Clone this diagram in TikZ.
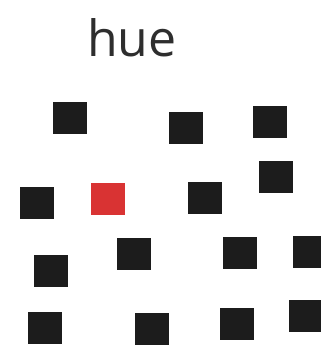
\documentclass[tikz,border=0pt]{standalone}
\usepackage{fontspec}
\setsansfont{Open Sans}
\definecolor{sqink}{HTML}{1C1C1C}
\definecolor{sqred}{HTML}{D93333}
\definecolor{hink}{HTML}{2E2E2E}
\tikzset{
  sq/.style={fill=#1, draw=none, minimum width=34pt, minimum height=32pt,
    inner sep=0pt},
  sq/.default=sqink,
  title/.style={text=hink, font=\sffamily\fontsize{50}{50}\selectfont,
    anchor=base, inner sep=0pt},
}
\begin{document}
\begin{tikzpicture}[x=1pt,y=-1pt]
\useasboundingbox (0,0) rectangle (321,351);
\clip (0,0) rectangle (321,351);

\node[title] (label) at (132,56) {hue};

% distractors
\foreach \n/\x/\y in {a/69.5/117.5, b/185.5/127.5, c/269.5/122, d/275.5/176.5,
    e/36.5/203, f/204.5/197.5, g/50.5/270.5, h/133.5/254, i/239.5/253,
    j/310/252, k/44.5/328, l/152/329, m/236.5/324, n/306/316}
  \node[sq] (sq-\n) at (\x,\y) {};

% target
\node[sq=sqred] (odd) at (107.5,198.5) {};

\end{tikzpicture}
\end{document}
